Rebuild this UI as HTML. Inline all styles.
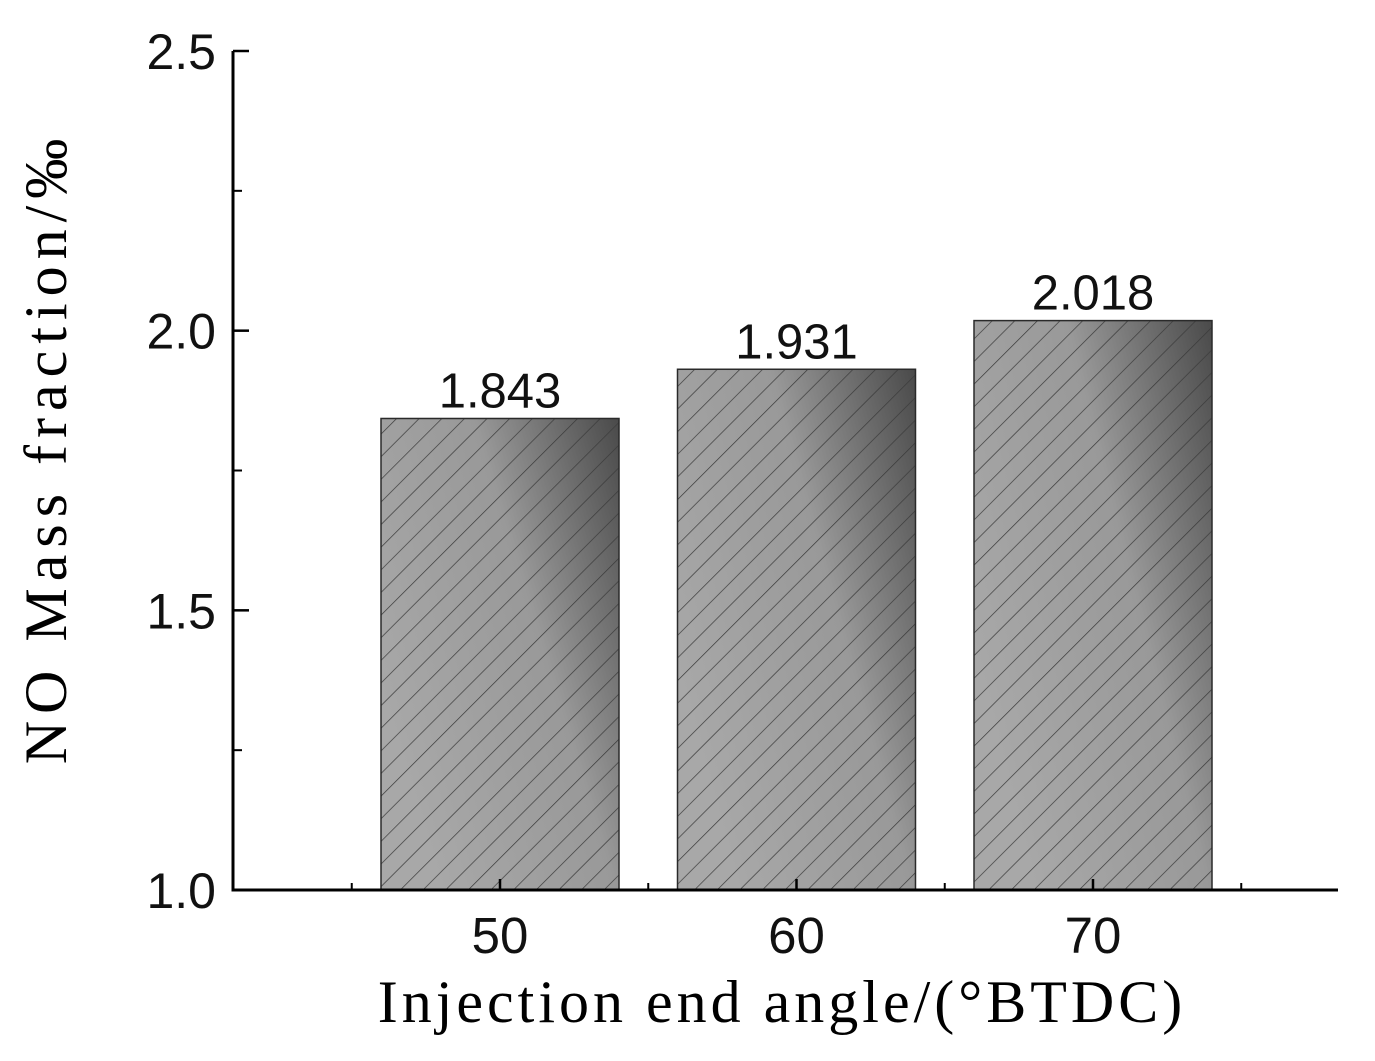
<!DOCTYPE html>
<html><head><meta charset="utf-8"><style>
body{margin:0;background:#fff}
svg{display:block}
</style></head><body>
<svg id="chart" width="1375" height="1061" xmlns="http://www.w3.org/2000/svg">
<defs>
<linearGradient id="g" x1="0" y1="0.6" x2="1" y2="0">
<stop offset="0" stop-color="#a8a8a8"/><stop offset="0.55" stop-color="#999"/><stop offset="1" stop-color="#4a4a4a"/>
</linearGradient>
<pattern id="h" patternUnits="userSpaceOnUse" width="16" height="16" patternTransform="rotate(45)">
<line x1="0" y1="0" x2="0" y2="16" stroke="#3a3a3a" stroke-width="1.4"/>
</pattern>
</defs>
<g id="bars"></g>
<g id="axes"></g>
<text x="782" y="1022" text-anchor="middle" font-family="Liberation Serif, serif" font-size="60" letter-spacing="4">Injection end angle/(°BTDC)</text>
<text transform="translate(66,448) rotate(-90)" text-anchor="middle" font-family="Liberation Serif, serif" font-size="60" letter-spacing="7">NO Mass fraction/‰</text>
</svg>
<script>
const categories=["50","60","70"];
const values=[1.843,1.931,2.018];
const valueLabels=["1.843","1.931","2.018"];
const yTicks=[1.0,1.5,2.0,2.5];
const yTickLabels=["1.0","1.5","2.0","2.5"];
const NS="http://www.w3.org/2000/svg";
const X0=233,X1=1338,Y0=890,Ytop=51,ymin=1,ymax=2.5;
const step=296.5,firstC=500;
function y(v){return Y0-(v-ymin)/(ymax-ymin)*(Y0-Ytop);}
function xc(i){return firstC+i*step;}
function el(t,a,p){const e=document.createElementNS(NS,t);for(const k in a)e.setAttribute(k,a[k]);p.appendChild(e);return e;}
const bars=document.getElementById('bars'),axes=document.getElementById('axes');
const bw=238;
values.forEach((v,i)=>{
 const g=el('g',{},bars);
 
 
 const a={x:xc(i)-bw/2,y:y(v),width:bw,height:Y0-y(v)};
 el('rect',Object.assign({fill:'url(#g)'},a),g);
 el('rect',Object.assign({fill:'url(#h)',stroke:'#2a2a2a','stroke-width':1.5},a),g);
 const t=el('text',{x:xc(i),y:y(v)-11,'text-anchor':'middle','font-family':'Liberation Sans, sans-serif','font-size':49,fill:'#111'},bars);
 t.textContent=valueLabels[i];
 
 
 const xl=el('text',{x:xc(i),y:953,'text-anchor':'middle','font-family':'Liberation Sans, sans-serif','font-size':51,fill:'#111'},axes);
 xl.textContent=categories[i];
 
 
 el('line',{x1:xc(i),x2:xc(i),y1:Y0,y2:Y0-11,stroke:'#000','stroke-width':2.5},axes);
});
for(let i=-1;i<categories.length;i++){const x=xc(i)+step/2;if(x>X0&&x<X1)el('line',{x1:x,x2:x,y1:Y0,y2:Y0-7,stroke:'#000','stroke-width':2},axes);}
yTicks.forEach((v,i)=>{
 el('line',{x1:X0,x2:X0+16,y1:y(v),y2:y(v),stroke:'#000','stroke-width':2.5},axes);
 if(i<yTicks.length-1){const m=(v+yTicks[i+1])/2;el('line',{x1:X0,x2:X0+9,y1:y(m),y2:y(m),stroke:'#000','stroke-width':2},axes);}
 const t=el('text',{x:216,y:y(v)+18,'text-anchor':'end','font-family':'Liberation Sans, sans-serif','font-size':50,fill:'#111'},axes);
 t.textContent=yTickLabels[i];
 
 
});
const ya=el('line',{x1:X0,x2:X0,y1:Ytop,y2:Y0+1.5,stroke:'#000','stroke-width':3},axes);


const xa=el('line',{x1:X0-1.5,x2:X1,y1:Y0,y2:Y0,stroke:'#000','stroke-width':3},axes);


</script>
</body></html>
